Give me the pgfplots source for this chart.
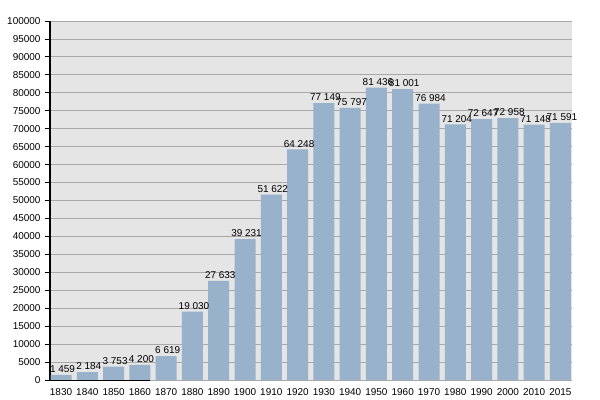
\documentclass[border=0pt]{standalone}
\usepackage{fontspec}
\setmainfont{Liberation Sans}
\usepackage{pgfplots}
\pgfplotsset{compat=1.18}
\definecolor{bg}{HTML}{E5E5E5}
\definecolor{barc}{HTML}{98B2CC}
\definecolor{gridc}{HTML}{A8A8A8}
\begin{document}
\begin{tikzpicture}
\useasboundingbox (-50bp,-20bp) rectangle (550bp,380bp);
\begin{axis}[
  at={(0,0)}, anchor=south west,
  scale only axis, width=522bp, height=359bp,
  xmin=-0.42, xmax=19.44, ymin=0, ymax=100000,
  axis background/.style={fill=bg},
  axis x line*=bottom, axis y line*=left,
  x axis line style={draw=none},
  y axis line style={line width=2.5bp, black},
  ytick={0,5000,...,100000},
  yticklabels={0,5000,10000,15000,20000,25000,30000,35000,40000,45000,50000,55000,60000,65000,70000,75000,80000,85000,90000,95000,100000},
  scaled y ticks=false,
  ymajorgrids, grid style={gridc, line width=0.8bp},
  xtick={0,...,19},
  xticklabels={1830,1840,1850,1860,1870,1880,1890,1900,1910,1920,1930,1940,1950,1960,1970,1980,1990,2000,2010,2015},
  x tick style={draw=none},
  y tick style={black, line width=0.8bp},
  tick align=outside, major tick length=5bp,
  yticklabel style={font=\fontsize{10}{12}\selectfont, xshift=-1bp},
  xticklabel style={font=\fontsize{10}{12}\selectfont},
  ybar, bar width=21bp,
  point meta=explicit symbolic,
  nodes near coords,
  nodes near coords style={font=\fontsize{10}{12}\selectfont, inner sep=2bp, xshift=1.5bp, black},
  clip=false,
]
\addplot[fill=barc, draw=none] coordinates {
(0,1459) [1 459] (1,2184) [2 184] (2,3753) [3 753] (3,4200) [4 200] (4,6619) [6 619]
(5,19030) [19 030] (6,27633) [27 633] (7,39231) [39 231] (8,51622) [51 622] (9,64248) [64 248]
(10,77149) [77 149] (11,75797) [75 797] (12,81436) [81 436] (13,81001) [81 001] (14,76984) [76 984]
(15,71204) [71 204] (16,72647) [72 647] (17,72958) [72 958] (18,71148) [71 148] (19,71591) [71 591]
};
\draw[black, line width=1.5bp] ([yshift=-0.5bp]axis cs:-0.42,0) -- ([yshift=-0.5bp]axis cs:3.38,0);
\end{axis}
\end{tikzpicture}
\end{document}
